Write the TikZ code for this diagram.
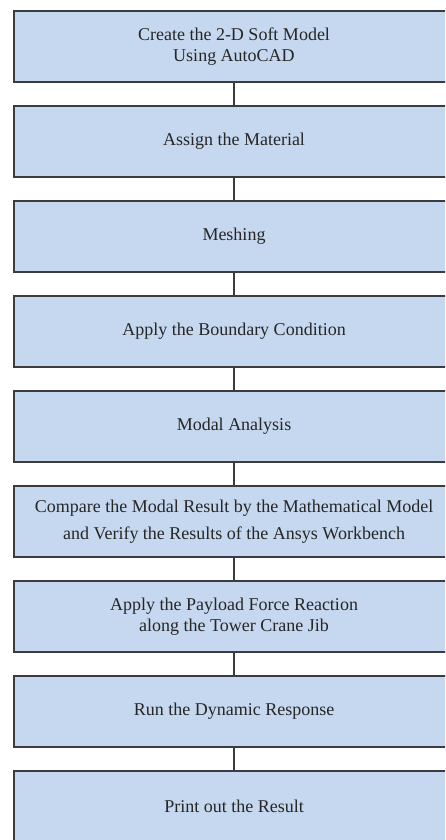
\documentclass[tikz,border=0pt]{standalone}
\usepackage{fontspec}
\setmainfont{Liberation Serif}
\usepackage{tikz}
\usetikzlibrary{positioning}
\definecolor{boxblue}{RGB}{198,216,239}
\definecolor{edgegray}{RGB}{58,60,64}

\begin{document}
\begin{tikzpicture}[font=\fontsize{18}{21}\selectfont]
    \tikzstyle{stage} = [draw=edgegray, line width=1.8pt, fill=boxblue, text=black!85,
        minimum width=440pt, minimum height=71.7pt, text centered, align=center, inner sep=0pt]
    \tikzstyle{link} = [draw=edgegray, line width=1.6pt]
    \useasboundingbox (0,0) rectangle (445pt,-840pt);
    \clip (0,0) rectangle (445pt,-840pt);
    \node [stage] at (234pt,-46.5pt) (model) {Create the 2-D Soft Model\\Using AutoCAD};
    \node [stage, below=21.5pt of model] (material) {Assign the Material};
    \node [stage, below=21.5pt of material] (mesh) {Meshing};
    \node [stage, below=21.5pt of mesh] (boundary) {Apply the Boundary Condition};
    \node [stage, below=21.5pt of boundary] (modal) {Modal Analysis};
    \node [stage, below=21.5pt of modal] (compare) {Compare the Modal Result by the Mathematical Model\\[6pt]and Verify the Results of the Ansys Workbench};
    \node [stage, below=21.5pt of compare] (payload) {Apply the Payload Force Reaction\\along the Tower Crane Jib};
    \node [stage, below=21.5pt of payload] (dynamic) {Run the Dynamic Response};
    \node [stage, below=21.5pt of dynamic] (result) {Print out the Result};
    \draw [link] (model) -- (material);
    \draw [link] (material) -- (mesh);
    \draw [link] (mesh) -- (boundary);
    \draw [link] (boundary) -- (modal);
    \draw [link] (modal) -- (compare);
    \draw [link] (compare) -- (payload);
    \draw [link] (payload) -- (dynamic);
    \draw [link] (dynamic) -- (result);
\end{tikzpicture}
\end{document}
